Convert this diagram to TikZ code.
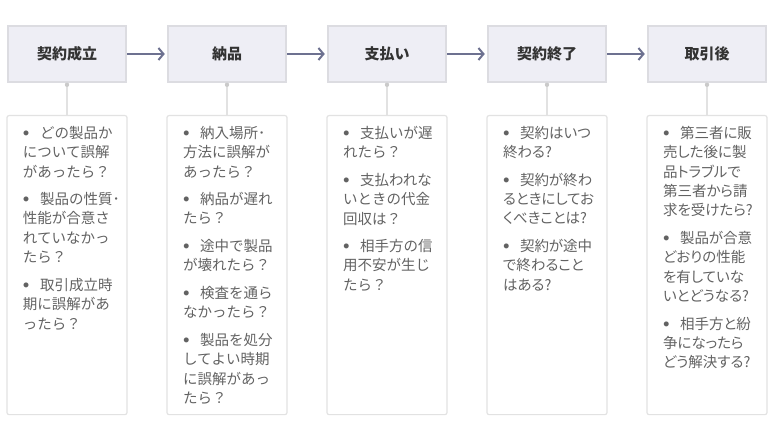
\documentclass[tikz,border=0pt]{standalone}
\usepackage{fontspec}
\setmainfont{Noto Sans CJK JP}
\newfontfamily\paltfont[RawFeature=+palt]{Noto Sans CJK JP}
\usetikzlibrary{arrows.meta,positioning}
\definecolor{hdrfill}{HTML}{EEEEF5}
\definecolor{hdrline}{HTML}{DCDCE1}
\definecolor{flowblue}{HTML}{6D7190}
\definecolor{boxline}{HTML}{E2E2E2}
\definecolor{stemdot}{HTML}{CACACA}
\definecolor{txtgray}{HTML}{626262}
\definecolor{hdrtxt}{HTML}{333333}
\tikzstyle{stage}  = [rectangle, draw=hdrline, line width=2.5pt, fill=hdrfill, minimum width=118pt, minimum height=56pt, text=hdrtxt, font=\fontsize{15}{15}\selectfont\bfseries]
\tikzstyle{detail} = [rectangle, draw=boxline, line width=1.2pt, rounded corners=2pt, minimum width=120pt, inner xsep=0pt, inner ysep=10.5pt, anchor=north, text=txtgray, font=\fontsize{14.5}{19.4}\selectfont]
\tikzstyle{arrow}  = [line width=2pt, flowblue, -{Straight Barb[length=5pt,width=12pt]}, shorten >=2pt]
\tikzstyle{stem}   = [boxline, line width=1.5pt]
\newcommand{\bul}{\makebox[17pt][l]{\hspace*{0.5pt}\raisebox{3pt}{\fontsize{5.5}{5.5}\selectfont ●}}}
\newcommand{\itemlist}[1]{\hspace*{16pt}\parbox[t][278pt][t]{98pt}{\raggedright #1}\hspace*{6pt}}

\begin{document}
\begin{tikzpicture}[x=1pt,y=-1pt]
        \useasboundingbox (0,0) rectangle (774,441);

        % stages
        \node[stage] (contract) at (67,54)  {契約成立};
        \node[stage] (delivery) at (227,54) {納品};
        \node[stage] (payment)  at (387,54) {支払い};
        \node[stage] (ending)   at (547,54) {契約終了};
        \node[stage] (after)    at (707,54) {取引後};

        \draw[arrow] (contract) -- (delivery);
        \draw[arrow] (delivery) -- (payment);
        \draw[arrow] (payment) -- (ending);
        \draw[arrow] (ending) -- (after);

        % questions
        \node[detail] (qcontract) at (67,115) {\itemlist{%
            \bul どの製品か\\ について誤解\\ があったら？\\[8.1pt]
            \bul 製品の性質･\\ 性能が合意さ\\ れていなかっ\\ たら？\\[8.1pt]
            \bul 取引成立時\\ 期に誤解があ\\ ったら？}};
        \node[detail] (qdelivery) at (227,115) {\itemlist{%
            \bul 納入場所･\\ 方法に誤解が\\ あったら？\\[8.1pt]
            \bul 納品が遅れ\\ たら？\\[8.1pt]
            \bul 途中で製品\\ が壊れたら？\\[8.1pt]
            \bul 検査を通ら\\ なかったら？\\[8.1pt]
            \bul 製品を処分\\ してよい時期\\ に誤解があっ\\ たら？}};
        \node[detail] (qpayment) at (387,115) {\itemlist{%
            \bul 支払いが遅\\ れたら？\\[8.1pt]
            \bul 支払われな\\ いときの代金\\ 回収は？\\[8.1pt]
            \bul 相手方の信\\ 用不安が生じ\\ たら？}};
        \node[detail] (qending) at (547,115) {\itemlist{\paltfont
            \bul 契約はいつ\\ 終わる?\\[8.1pt]
            \bul 契約が終わ\\ るときにしてお\\ くべきことは?\\[8.1pt]
            \bul 契約が途中\\ で終わること\\ はある?}};
        \node[detail] (qafter) at (707,115) {\itemlist{\paltfont
            \bul 第三者に販\\ 売した後に製\\ 品トラブルで\\ 第三者から請\\ 求を受けたら?\\[8.1pt]
            \bul 製品が合意\\ どおりの性能\\ を有していな\\ いとどうなる?\\[8.1pt]
            \bul 相手方と紛\\ 争になったら\\ どう解決する?}};

        % stems
        \draw[stem] (contract.south) -- (qcontract.north);
        \draw[stem] (delivery.south) -- (qdelivery.north);
        \draw[stem] (payment.south) -- (qpayment.north);
        \draw[stem] (ending.south) -- (qending.north);
        \draw[stem] (after.south) -- (qafter.north);
        \fill[stemdot] ([yshift=-1.5pt]contract.south) circle (2.2pt);
        \fill[stemdot] ([yshift=-1.5pt]delivery.south) circle (2.2pt);
        \fill[stemdot] ([yshift=-1.5pt]payment.south) circle (2.2pt);
        \fill[stemdot] ([yshift=-1.5pt]ending.south) circle (2.2pt);
        \fill[stemdot] ([yshift=-1.5pt]after.south) circle (2.2pt);
\end{tikzpicture}
\end{document}
